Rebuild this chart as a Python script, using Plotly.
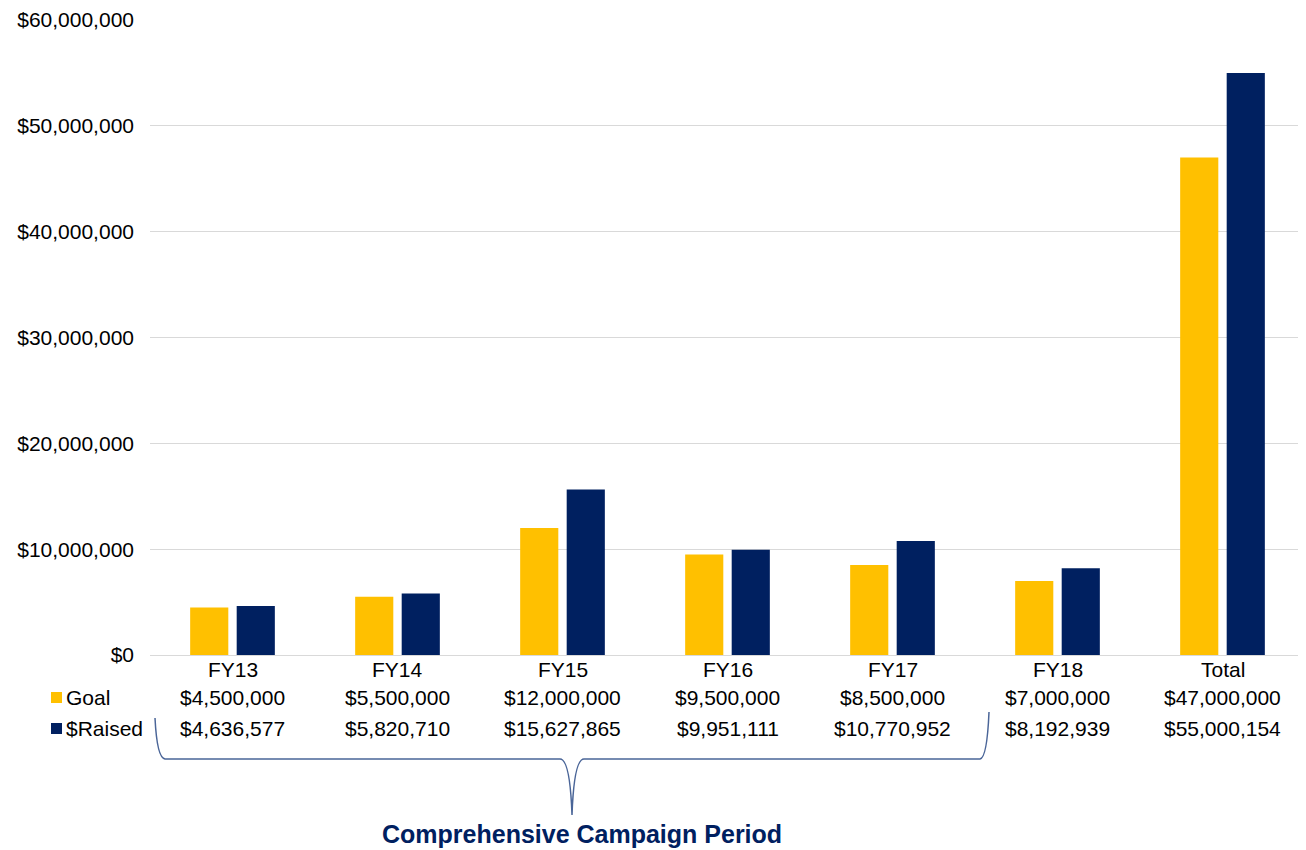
import plotly.graph_objects as go

categories = ["FY13", "FY14", "FY15", "FY16", "FY17", "FY18", "Total"]
goal = [4500000, 5500000, 12000000, 9500000, 8500000, 7000000, 47000000]
raised = [4636577, 5820710, 15627865, 9951111, 10770952, 8192939, 55000154]
series_names = ["Goal", "$Raised"]
colors = ["#FFC000", "#002060"]
brace_label = "Comprehensive Campaign Period"

OFF = 8  # page body margin
W, H = 1306 - OFF, 850 - OFF
L, R, T, B = 150 - OFF, 1, 20 - OFF, 195
pw, ph = W - L - R, H - T - B


def px(x):
    return (x - OFF - L) / pw


def py(y):
    return (H - B - (y - OFF)) / ph


fig = go.Figure()
for name, vals, col in zip(series_names, [goal, raised], colors):
    fig.add_trace(go.Bar(x=categories, y=vals, name=name, marker_color=col,
                         marker_line_width=0, showlegend=False))

font = dict(family="Liberation Sans, Arial", size=21, color="#000000")
annotations = []
for c in categories:
    annotations.append(dict(x=c, xref="x", y=py(669), yref="paper", text=c,
                            showarrow=False, font=font, xanchor="center", yanchor="middle"))
for row_i, vals in enumerate([goal, raised]):
    for c, v in zip(categories, vals):
        annotations.append(dict(x=c, xref="x", y=py(697 + row_i * 31), yref="paper",
                                text=f"${v:,.0f}", showarrow=False, font=font,
                                xanchor="center", yanchor="middle"))
    annotations.append(dict(x=px(64), xref="paper", y=py(697 + row_i * 31), yref="paper",
                            text=series_names[row_i], showarrow=False, font=font,
                            xanchor="left", yanchor="middle"))

annotations.append(dict(x=px(582), xref="paper", y=py(834), yref="paper",
                        text=f"<b>{brace_label}</b>", showarrow=False,
                        font=dict(family="Liberation Sans, Arial", size=25, color="#002060"),
                        xanchor="center", yanchor="middle"))

shapes = []
for row_i, col in enumerate(colors):
    yc = 697 + row_i * 31
    shapes.append(dict(type="rect", xref="paper", yref="paper",
                       x0=px(51), x1=px(62), y0=py(yc + 6), y1=py(yc - 5),
                       fillcolor=col, line_width=0))

pts = [
    ("M", 155, 718),
    ("Q", 157, 758, 165, 759),
    ("L", 560, 759),
    ("Q", 570, 759, 572, 815),
    ("Q", 574, 759, 584, 759),
    ("L", 980, 759),
    ("Q", 987, 758, 989, 712),
]
path = ""
for p in pts:
    cmd = p[0]
    coords = p[1:]
    s = []
    for i in range(0, len(coords), 2):
        s.append(f"{px(coords[i]):.5f},{py(coords[i+1]):.5f}")
    path += cmd + " " + " ".join(s) + " "
shapes.append(dict(type="path", xref="paper", yref="paper", path=path,
                   line=dict(color="#4a6598", width=1.5)))

fig.update_layout(
    width=W, height=H,
    margin=dict(l=L, r=R, t=T, b=B),
    plot_bgcolor="white", paper_bgcolor="white",
    barmode="group", bargap=0.436, bargroupgap=0.18,
    annotations=annotations, shapes=shapes,
    font=font,
)
fig.update_xaxes(showgrid=False, showline=True, linecolor="#d9d9d9", linewidth=1,
                 ticks="", showticklabels=False)
fig.update_yaxes(range=[0, 60000000], dtick=10000000, tickprefix="$",
                 tickformat=",.0f", showgrid=True, gridcolor="#d9d9d9",
                 zeroline=False, showline=False, ticks="", tickfont=font,
                 ticklabelstandoff=15)

fig.write_html("out.html")
